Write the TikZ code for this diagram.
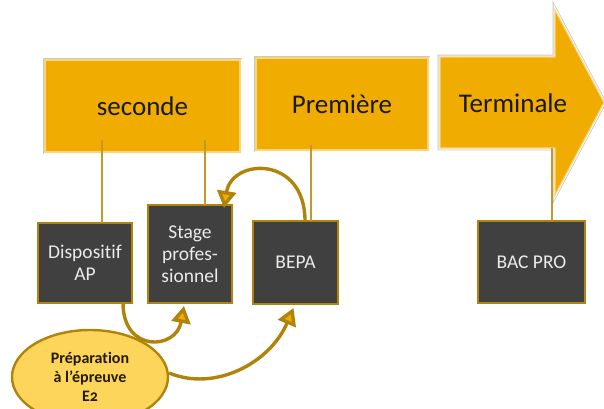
\documentclass[tikz,border=0pt]{standalone}
\usepackage{fontspec}
\setmainfont{Carlito}[RawFeature={-liga;-clig}]
\newfontfamily\prepfont[Numbers=OldStyle,RawFeature={-liga;-clig}]{Carlito}
\usetikzlibrary{arrows.meta,shapes.geometric,positioning}
\definecolor{yearfill}{RGB}{240,172,0}
\definecolor{yearedge}{RGB}{249,214,120}
\definecolor{boxfill}{RGB}{64,64,64}
\definecolor{boxgold}{RGB}{176,132,10}
\definecolor{linkgold}{RGB}{196,152,44}
\definecolor{prepfill}{RGB}{253,213,90}

\begin{document}
\begin{tikzpicture}[x=1pt,y=1pt,
  yearbody/.style={fill=yearfill,draw=yearedge,line width=1.2pt,
    preaction={draw=black!22,line width=4.6pt},preaction={draw=white,line width=3pt}},
  year/.style={yearbody,rectangle,outer sep=0pt,font=\fontsize{27}{30}\selectfont,text=black!90},
  unit/.style={rectangle,fill=boxfill,draw=boxgold,line width=2.6pt,outer sep=0pt,
    font=\fontsize{19.5}{22}\selectfont,text=white!92!black,align=center},
  link/.style={draw=linkgold,line width=1.6pt},
  swing/.style={draw=boxgold,line width=3.4pt,-{Triangle[length=17pt,width=19pt,fill=yearfill]}}]
\useasboundingbox (0,0) rectangle (604,408);
% years
\node[year,minimum width=195,minimum height=92] (sec) at (142.5,302) {seconde};
\node[year,minimum width=172,minimum height=92] (prem) at (342,304) {Première};
\draw[yearbody] (440,351) -- (555,351) -- (555,398) -- (604,305.5) -- (555,213) -- (555,260) -- (440,260) -- cycle;
\node[font=\fontsize{27}{30}\selectfont,text=black!90] (term) at (513,305) {Terminale};
\coordinate (termfoot) at (552,260);
% units
\node[unit,minimum width=94,minimum height=80] (disp) at (85,145) {Dispositif\\AP};
\node[unit,minimum width=84,minimum height=98] (stage) at (190,154) {Stage\\profes-\\sionnel};
\node[unit,minimum width=85,minimum height=83] (bepa) at (295.5,145.5) {BEPA};
\node[unit,minimum width=107,minimum height=82] (bac) at (531.5,146) {BAC PRO};
\node[ellipse,fill=prepfill,draw=boxgold,line width=2.4pt,minimum width=156,minimum height=94,
  inner sep=0pt,align=center,font=\prepfont\bfseries\fontsize{16}{19}\selectfont,text=black!85!yearfill]
  (prep) at (90,31) {Préparation\\à l’épreuve\\E2};
% links
\draw[link] ([xshift=-40.5pt,yshift=12pt]sec.south) -- ([xshift=17pt]disp.north);
\draw[link] ([xshift=62.5pt,yshift=12pt]sec.south) -- ([xshift=15pt]stage.north);
\draw[link] ([xshift=-31pt,yshift=5pt]prem.south) -- ([xshift=15.5pt]bepa.north);
\draw[link] (termfoot) -- ([xshift=20.5pt]bac.north);
% curved arrows
\draw[swing] ([xshift=38pt]disp.south) .. controls (123,55) and (176,58) .. ([xshift=-6pt,yshift=-3pt]stage.south);
\draw[swing] ([xshift=9.5pt]bepa.north) .. controls (305,253) and (232,250) .. ([xshift=34pt,yshift=-3pt]stage.north);
\draw[swing] ([yshift=4pt]prep.east) .. controls (215,16) and (270,45) .. ([xshift=-2pt,yshift=-4pt]bepa.south);
\end{tikzpicture}
\end{document}
